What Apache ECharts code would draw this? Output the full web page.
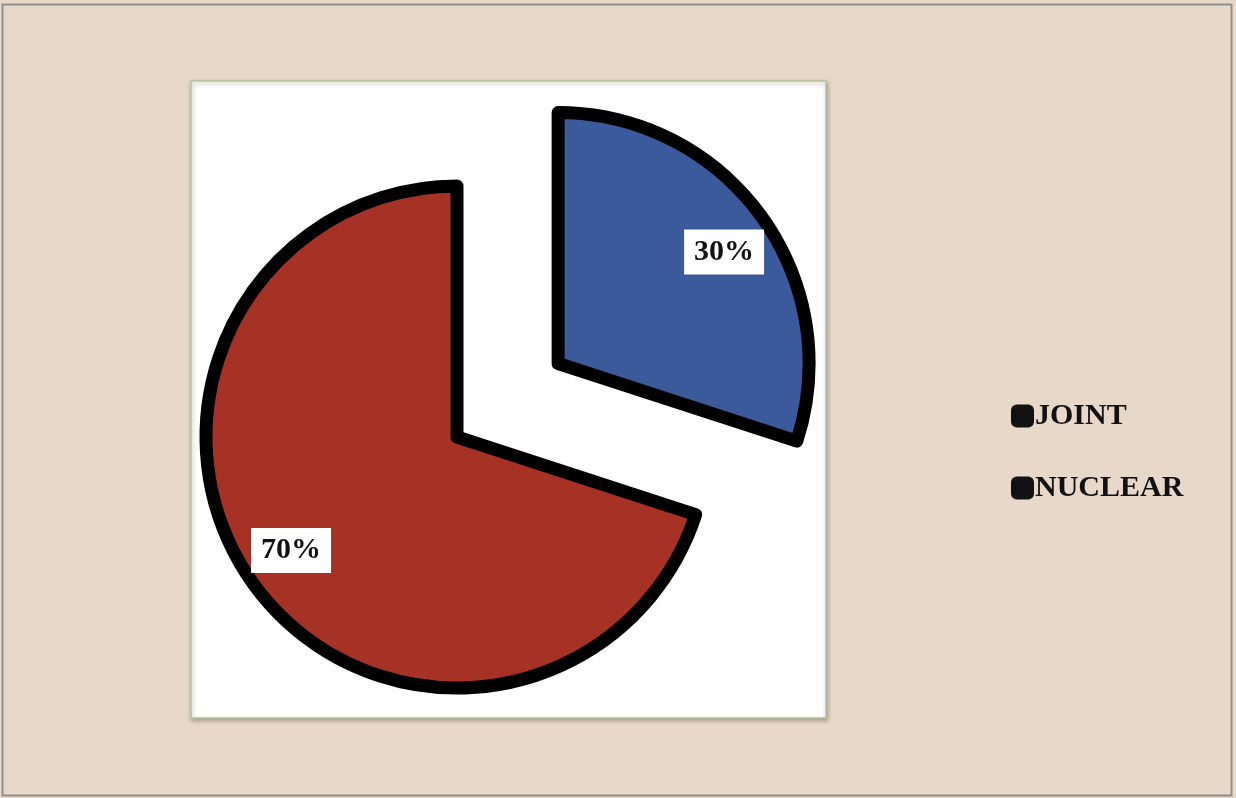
<!DOCTYPE html>
<html>
<head>
<meta charset="utf-8">
<script src="https://cdn.jsdelivr.net/npm/echarts@6/dist/echarts.min.js"></script>
<style>
  html, body { margin: 0; padding: 0; background: #e8d8ca; }
  #main { width: 1236px; height: 798px; }
</style>
</head>
<body>
<div id="main"></div>
<script>
// data
const categories = ['JOINT', 'NUCLEAR'];
const values = [30, 70];
const sliceColors = ['#3a5a9c', '#a53224'];
// extra push of the labels outward from the default inside spot
const labelOffsets = [[62, -36], [-62, 38]];

const chart = echarts.init(document.getElementById('main'));

const pieData = categories.map(function (name, i) {
  return {
    name: name,
    value: values[i],
    selected: i === 0,
    itemStyle: { color: sliceColors[i] }
  };
});

chart.setOption({
  backgroundColor: '#e8d8ca',
  animation: false,
  graphic: [
    {
      type: 'rect',
      shape: { x: 2.5, y: 4.5, width: 1229, height: 791 },
      style: { fill: 'none', stroke: '#8f8f8f', lineWidth: 2 },
      z: -10
    },
    {
      type: 'rect',
      shape: { x: 191, y: 81, width: 635, height: 637 },
      style: {
        fill: '#ffffff',
        stroke: '#b8c49a',
        lineWidth: 1.5,
        shadowColor: 'rgba(80,80,60,0.45)',
        shadowBlur: 4,
        shadowOffsetX: 1,
        shadowOffsetY: 2
      },
      z: -5
    }
  ],
  legend: {
    orient: 'vertical',
    left: 1006,
    top: 396,
    itemWidth: 23,
    itemHeight: 23,
    itemGap: 42,
    icon: 'roundRect',
    itemStyle: { color: '#111111', borderWidth: 0 },
    textStyle: {
      fontFamily: 'Liberation Serif',
      fontWeight: 'bold',
      fontSize: 30,
      color: '#111111',
      padding: [0, 0, 0, -4]
    },
    data: categories
  },
  series: [
    {
      type: 'pie',
      center: [457, 437],
      radius: 251,
      startAngle: 90,
      clockwise: true,
      selectedMode: 'single',
      selectedOffset: 125,
      itemStyle: { borderColor: '#000000', borderWidth: 13, borderJoin: 'round' },
      emphasis: { disabled: true },
      label: {
        position: 'inside',
        formatter: '{d}%',
        fontFamily: 'Liberation Serif',
        fontWeight: 'bold',
        fontSize: 30,
        color: '#111111',
        backgroundColor: '#ffffff',
        padding: [9, 10, 6, 10]
      },
      labelLine: { show: false },
      labelLayout: function (params) {
        const off = labelOffsets[params.dataIndex];
        return { dx: off[0], dy: off[1] };
      },
      data: pieData
    }
  ]
});
</script>
</body>
</html>
